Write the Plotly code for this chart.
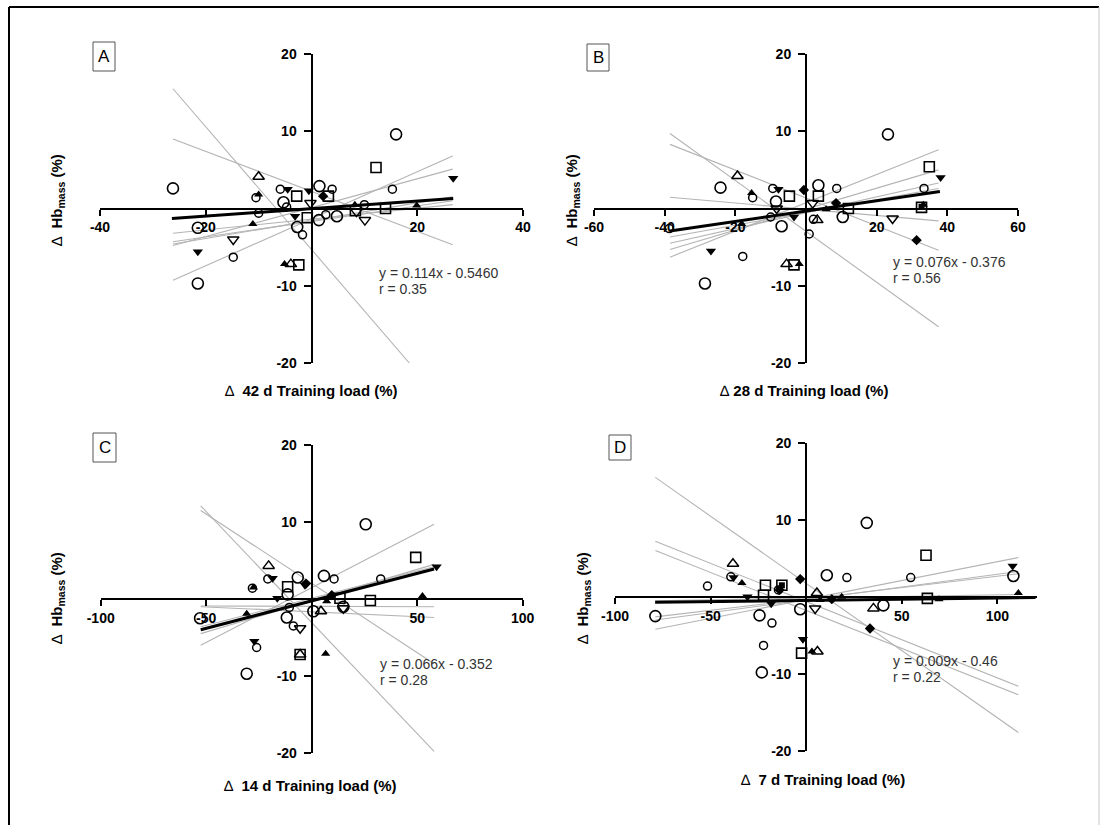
import plotly.graph_objects as go

# ---------------- DATA ----------------
# Panel A : delta 42 d training load
A_circle = [(-26.2, 2.6), (16.0, 9.6), (-21.5, -9.7), (-21.5, -2.5), (-5.3, 0.8), (1.5, 2.9),
            (-2.7, -2.4), (1.4, -1.5), (4.8, -1.0)]
A_circle_small = [(-14.8, -6.3), (-5.9, 2.5), (3.9, 2.5), (-1.7, -3.4), (2.7, -0.8), (15.3, 2.5),
                  (10.0, 0.5), (-10.5, 1.4), (-10.0, -0.6), (-4.7, 0.2)]
A_square = [(12.2, 5.3), (-2.8, 1.6), (3.2, 1.6), (-2.4, -7.3), (-0.8, -1.2), (8.3, -0.3), (14.0, 0.0)]
A_tri_up_open = [(-10.0, 4.1), (-3.9, -7.2)]
A_tri_down_open = [(-14.8, -4.0), (10.1, -1.5), (-0.2, 0.7), (8.5, -0.4)]
A_tri_down_filled = [(26.8, 3.9), (-21.5, -5.6), (-4.5, 2.5), (-3.1, -1.0), (-0.5, 2.3)]
A_tri_up_filled = [(-5.1, -7.2), (-11.1, -2.0), (19.9, 0.4), (8.2, 0.5), (-10.0, 1.8)]
A_diamond = [(2.2, 1.6)]
A_square_filled = []
A_gray_lines = [(-26.2, 15.5, 18.5, -20.0), (-26.2, 9.0, 26.7, -4.7), (-26.2, -9.3, 26.7, 6.8),
                (-26.2, -4.8, 26.7, 5.1), (-26.2, -4.6, 26.7, 1.5), (-26.2, -4.3, 26.7, 1.0),
                (-26.2, -3.2, 26.7, 0.5)]
A_fit = (-26.4, -1.3, 26.8, 1.3)
A_eq = ["y = 0.114x - 0.5460", "r = 0.35"]

# Panel B : delta 28 d training load
B_circle = [(23.2, 9.6), (-24.2, 2.7), (-28.6, -9.7), (-8.5, 0.9), (-6.9, -2.3), (3.5, 3.0), (10.4, -1.1)]
B_circle_small = [(-17.9, -6.2), (-9.4, 2.6), (8.7, 2.6), (0.9, -3.3), (2.1, -1.4), (33.4, 2.6),
                  (-38.7, -2.6), (-15.1, 1.4), (-10.0, -1.1)]
B_square = [(34.9, 5.4), (-4.7, 1.6), (3.5, 1.6), (-3.4, -7.3), (32.7, 0.15), (12.0, 0.0)]
B_tri_up_open = [(-19.4, 4.2), (-5.5, -7.2), (3.2, -1.5)]
B_tri_down_open = [(24.5, -1.3), (1.9, 0.7), (-8.3, 0.0)]
B_tri_down_filled = [(38.1, 4.0), (-26.9, -5.5), (-7.8, 2.5), (-3.4, -1.1)]
B_tri_up_filled = [(-15.4, 2.0), (-1.9, -7.2), (-18.2, -2.0), (5.7, -0.1), (33.2, 0.5)]
B_diamond = [(-0.6, 2.4), (31.3, -4.1), (8.5, 0.7)]
B_square_filled = [(32.7, 0.2)]
B_gray_lines = [(-38.5, 9.7, 37.5, -15.3), (-38.5, 8.3, 37.5, -5.4), (-38.5, 1.45, 37.5, -1.6),
                (-38.5, -6.3, 37.5, 7.6), (-38.5, -5.3, 37.5, 5.0), (-38.5, -4.5, 37.5, 3.3),
                (-38.5, -3.7, 37.5, 2.6)]
B_fit = (-38.5, -2.9, 37.9, 2.2)
B_eq = ["y = 0.076x - 0.376", "r = 0.56"]

# Panel C : delta 14 d training load
C_circle = [(25.6, 9.7), (-52.9, -2.5), (-30.8, -9.7), (-6.6, 2.8), (5.8, 3.0), (-11.8, -2.4),
            (0.8, -1.6), (15.0, -1.0), (-11.4, 0.6)]
C_circle_small = [(-26.1, -6.3), (-28.1, 1.4), (-20.8, 2.6), (10.6, 2.6), (-8.7, -3.5), (32.7, 2.6),
                  (-10.6, -1.1)]
C_square = [(49.3, 5.4), (27.8, -0.2), (-11.4, 1.6), (-5.5, -7.2), (13.4, 0.1)]
C_tri_up_open = [(-20.4, 4.3), (4.4, -1.6), (-5.5, -7.2)]
C_tri_down_open = [(-5.5, -3.8), (15.0, -1.2)]
C_tri_down_filled = [(59.2, 4.2), (-27.2, -5.5), (-18.5, 2.7), (-16.3, 0.1), (-3.2, 1.8)]
C_tri_up_filled = [(52.5, 0.4), (6.6, -7.1), (-30.8, -1.9), (-27.6, 1.5), (7.1, -0.3)]
C_diamond = [(-2.7, 2.0), (9.5, 0.5)]
C_square_filled = []
C_gray_lines = [(-52.6, 12.1, 58.0, -19.8), (-52.6, 11.5, 58.0, -8.4), (-52.6, -6.0, 58.0, 9.7),
                (-52.6, -1.0, 58.0, -2.4), (-52.6, -0.9, 58.0, -1.0), (-52.6, -4.5, 58.0, 4.5),
                (-52.6, -3.6, 58.0, 4.2)]
C_fit = (-52.6, -4.0, 58.0, 3.9)
C_eq = ["y = 0.066x - 0.352", "r = 0.28"]

# Panel D : delta 7 d training load
D_circle = [(31.7, 9.6), (-78.9, -2.5), (-24.4, -2.4), (-23.2, -9.8), (10.8, 2.8), (108.4, 2.7),
            (-3.1, -1.6), (40.4, -1.1)]
D_circle_small = [(-17.9, -3.4), (-22.3, -6.3), (-51.6, 1.4), (-39.4, 2.6), (21.3, 2.5), (54.7, 2.5),
                  (-14.5, 0.9)]
D_square = [(62.7, 5.4), (-21.3, 1.5), (-22.3, 0.2), (-2.4, -7.3), (63.4, -0.2), (-12.7, 1.5)]
D_tri_up_open = [(-38.3, 4.3), (35.2, -1.5), (5.9, -7.1), (5.6, 0.5)]
D_tri_down_open = [(4.7, -1.5)]
D_tri_down_filled = [(108.0, 4.0), (-1.7, -5.5), (-38.0, 2.5), (-30.7, 0.0), (-18.3, -0.9)]
D_tri_up_filled = [(111.0, 0.5), (3.0, -7.1), (-33.6, 1.8), (18.6, 0.0), (69.5, -0.3), (7.3, -0.4)]
D_diamond = [(-3.1, 2.3), (33.4, -4.1), (13.4, -0.3), (-13.9, 0.9)]
D_square_filled = [(-12.7, 1.5)]
D_gray_lines = [(-78.9, 15.5, 111.0, -17.6), (-78.9, 7.2, 111.0, -11.6), (-78.9, 6.0, 111.0, -12.7),
                (-78.9, -4.2, 111.0, 5.1), (-78.9, -3.0, 111.0, 3.3), (-78.9, -2.6, 111.0, 3.0),
                (-78.9, -0.5, 111.0, 0.3)]
D_fit = (-79.0, -0.7, 120.0, -0.1)
D_eq = ["y = 0.009x - 0.46", "r = 0.22"]

# axis tick labels / titles
A_xticks = [-40, -20, 20, 40]
B_xticks = [-60, -40, -20, 20, 40, 60]
C_xticks = [-100, -50, 50, 100]
D_xticks = [-100, -50, 50, 100]
y_ticks = [-20, -10, 10, 20]
x_titles = ["\u2206  42 d Training load (%)", "\u2206 28 d Training load (%)",
            "\u2206  14 d Training load (%)", "\u2206  7 d Training load (%)"]
panel_letters = ["A", "B", "C", "D"]

# ---------------- LAYOUT HELPERS ----------------
W, H = 1101, 825
FONT = "Liberation Sans, Arial, sans-serif"


def fx(px):
    return px / W


def fy(py):
    return 1 - py / H


panels = [
    dict(data=(A_circle, A_circle_small, A_square, A_tri_up_open, A_tri_down_open, A_tri_down_filled,
               A_tri_up_filled, A_diamond, A_square_filled), lines=A_gray_lines, fit=A_fit, eq=A_eq,
         xticks=A_xticks, xr=(-40, 40), xpx=(100, 523), ypx=(54, 363),
         box=(93, 42, 115, 71), ytitle=(57, 200), xtitle=(311, 391), eqpos=(377, 273)),
    dict(data=(B_circle, B_circle_small, B_square, B_tri_up_open, B_tri_down_open, B_tri_down_filled,
               B_tri_up_filled, B_diamond, B_square_filled), lines=B_gray_lines, fit=B_fit, eq=B_eq,
         xticks=B_xticks, xr=(-60, 60), xpx=(594, 1018), ypx=(54, 363),
         box=(587, 44, 609, 71), ytitle=(572, 200), xtitle=(804, 391), eqpos=(891, 262)),
    dict(data=(C_circle, C_circle_small, C_square, C_tri_up_open, C_tri_down_open, C_tri_down_filled,
               C_tri_up_filled, C_diamond, C_square_filled), lines=C_gray_lines, fit=C_fit, eq=C_eq,
         xticks=C_xticks, xr=(-100, 100), xpx=(100.7, 522.7), ypx=(445, 753),
         box=(93, 433, 116, 462), ytitle=(57, 598), xtitle=(310, 785), eqpos=(378, 664)),
    dict(data=(D_circle, D_circle_small, D_square, D_tri_up_open, D_tri_down_open, D_tri_down_filled,
               D_tri_up_filled, D_diamond, D_square_filled), lines=D_gray_lines, fit=D_fit, eq=D_eq,
         xticks=D_xticks, xr=(-100, 120.6), xpx=(615, 1036.7), ypx=(442.7, 751),
         box=(609, 435, 631, 460), ytitle=(583, 598), xtitle=(823, 779), eqpos=(891, 661)),
]

marker_styles = [
    dict(symbol="circle-open", size=11, color="black", line=dict(width=1.6, color="black")),
    dict(symbol="circle-open", size=8, color="black", line=dict(width=1.5, color="black")),
    dict(symbol="square-open", size=10, color="black", line=dict(width=1.6, color="black")),
    dict(symbol="triangle-up-open", size=10, color="black", line=dict(width=1.5, color="black")),
    dict(symbol="triangle-down-open", size=10, color="black", line=dict(width=1.5, color="black")),
    dict(symbol="triangle-down", size=9, color="black", line=dict(width=0)),
    dict(symbol="triangle-up", size=8, color="black", line=dict(width=0)),
    dict(symbol="diamond", size=8, color="black", line=dict(width=0)),
    dict(symbol="square", size=6, color="black", line=dict(width=0)),
]

fig = go.Figure()
annotations = []
shapes = []
layout_axes = {}

for i, p in enumerate(panels):
    n = "" if i == 0 else str(i + 1)
    xa, ya = "x" + n, "y" + n
    # individual regression lines (grey)
    for (x0, y0, x1, y1) in p["lines"]:
        fig.add_trace(go.Scatter(x=[x0, x1], y=[y0, y1], mode="lines", xaxis=xa, yaxis=ya,
                                 line=dict(color="#b4b4b4", width=1.1), hoverinfo="skip",
                                 showlegend=False))
    # markers
    for pts, st in zip(p["data"], marker_styles):
        if not pts:
            continue
        fig.add_trace(go.Scatter(x=[q[0] for q in pts], y=[q[1] for q in pts], mode="markers",
                                 xaxis=xa, yaxis=ya, marker=st, showlegend=False, cliponaxis=False))
    # group regression line (black)
    x0, y0, x1, y1 = p["fit"]
    fig.add_trace(go.Scatter(x=[x0, x1], y=[y0, y1], mode="lines", xaxis=xa, yaxis=ya,
                             line=dict(color="black", width=3), showlegend=False))

    xr = p["xr"]
    xpx0, xpx1 = p["xpx"]
    ypx0, ypx1 = p["ypx"]
    zero_px = xpx0 + (0 - xr[0]) / (xr[1] - xr[0]) * (xpx1 - xpx0)
    mid_py = (ypx0 + ypx1) / 2
    tickfont = dict(family=FONT, size=14, color="black", weight="bold")
    layout_axes["xaxis" + n] = dict(
        domain=[fx(xpx0), fx(xpx1)], range=list(xr), anchor="free", position=fy(mid_py),
        showline=True, linecolor="black", linewidth=2, ticks="outside", ticklen=6, tickwidth=2,
        tickcolor="black", tickvals=p["xticks"], ticktext=[str(v) for v in p["xticks"]],
        tickfont=tickfont, showgrid=False, zeroline=False, fixedrange=True, automargin=False)
    layout_axes["yaxis" + n] = dict(
        domain=[fy(ypx1), fy(ypx0)], range=[-20, 20], anchor="free", position=fx(zero_px),
        showline=True, linecolor="black", linewidth=2, ticks="outside", ticklen=7, tickwidth=2,
        tickcolor="black", tickvals=y_ticks, ticktext=[str(v) for v in y_ticks],
        tickfont=tickfont, showgrid=False, zeroline=False, fixedrange=True, automargin=False,
        ticklabelstandoff=4)

    # panel letter box
    bx0, by0, bx1, by1 = p["box"]
    shapes.append(dict(type="rect", xref="paper", yref="paper", x0=fx(bx0), x1=fx(bx1),
                       y0=fy(by1), y1=fy(by0), line=dict(color="#555555", width=1)))
    annotations.append(dict(text=panel_letters[i], xref="paper", yref="paper",
                            x=fx((bx0 + bx1) / 2), y=fy((by0 + by1) / 2), showarrow=False,
                            font=dict(family=FONT, size=17, color="black"),
                            xanchor="center", yanchor="middle"))
    # y title
    tx, ty = p["ytitle"]
    annotations.append(dict(text="\u2206  <b>Hb<sub>mass</sub> (%)</b>", xref="paper", yref="paper",
                            x=fx(tx), y=fy(ty), textangle=-90, showarrow=False,
                            font=dict(family=FONT, size=15, color="black"),
                            xanchor="center", yanchor="middle"))
    # x title
    tx, ty = p["xtitle"]
    t = x_titles[i]
    annotations.append(dict(text=t[0] + "<b>" + t[1:] + "</b>", xref="paper", yref="paper",
                            x=fx(tx), y=fy(ty), showarrow=False,
                            font=dict(family=FONT, size=15, color="black"),
                            xanchor="center", yanchor="middle"))
    # equation
    ex, ey = p["eqpos"]
    annotations.append(dict(text=p["eq"][0], xref="paper", yref="paper", x=fx(ex), y=fy(ey),
                            showarrow=False, font=dict(family=FONT, size=14, color="#333333"),
                            xanchor="left", yanchor="middle"))
    annotations.append(dict(text=p["eq"][1], xref="paper", yref="paper", x=fx(ex), y=fy(ey + 16),
                            showarrow=False, font=dict(family=FONT, size=14, color="#333333"),
                            xanchor="left", yanchor="middle"))

# outer frame
shapes.append(dict(type="line", xref="paper", yref="paper", x0=fx(9), x1=fx(9), y0=fy(7), y1=0,
                   line=dict(color="black", width=2)))
shapes.append(dict(type="line", xref="paper", yref="paper", x0=fx(9), x1=fx(1099), y0=fy(7), y1=fy(7),
                   line=dict(color="black", width=2)))
shapes.append(dict(type="line", xref="paper", yref="paper", x0=fx(1099), x1=fx(1099), y0=fy(7), y1=0,
                   line=dict(color="#c8c8c8", width=1)))

fig.update_layout(template="none", width=W, height=H, margin=dict(l=0, r=0, t=0, b=0, pad=0),
                  paper_bgcolor="white", plot_bgcolor="rgba(0,0,0,0)",
                  showlegend=False, annotations=annotations, shapes=shapes,
                  font=dict(family=FONT), hovermode=False, **layout_axes)

fig.write_html("out.html", config={"displayModeBar": False, "staticPlot": True},
               post_script="document.body.style.margin='0';document.body.style.overflow='hidden';")
